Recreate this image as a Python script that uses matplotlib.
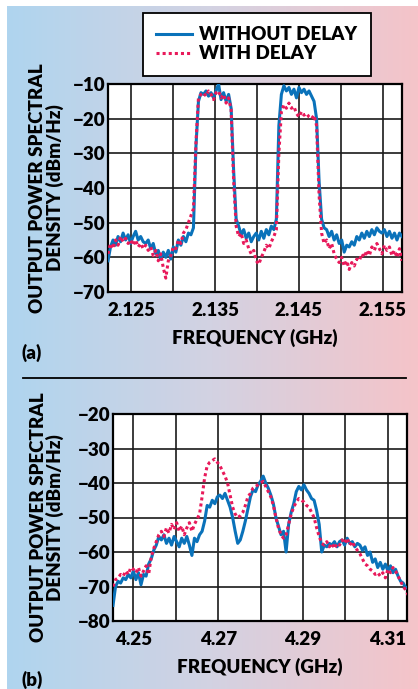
import numpy as np
import matplotlib
matplotlib.use('Agg')
import matplotlib.pyplot as plt
from matplotlib.colors import LinearSegmentedColormap

plt.rcParams['font.family'] = ['Lato', 'DejaVu Sans']
plt.rcParams['font.weight'] = 'heavy'
plt.rcParams['axes.labelweight'] = 'heavy'

# panel (a): sweep start / step in GHz, then trace values in dBm/Hz
a_start, a_step = 2.1222, 0.0003
a_without = [-61, -57, -55, -56.5, -54, -55.5, -53, -55, -53.5, -56,
             -54, -52.5, -55, -54, -55.5, -56, -55, -57.5, -56, -59,
             -58, -60.5, -58.5, -60, -58, -60.5, -57, -58.5, -55, -56.5,
             -54, -55.5, -53, -53.5, -51.5, -28, -15, -12.5, -13, -12,
             -13.5, -12.5, -14, -12, -10, -14.5, -12.5, -15, -13, -17,
             -35, -49, -51, -53.5, -52, -54.5, -53, -55.5, -54, -53,
             -55, -52.5, -54.5, -52, -53.5, -51, -52, -49, -22, -13,
             -10.5, -12, -11, -13, -11.5, -14, -11, -12.5, -11.5, -13,
             -12, -13.5, -15, -20, -38, -49, -51.5, -52, -54, -52.5,
             -55, -53.5, -56, -55, -58.5, -56.5, -57, -55.5, -56.5, -54,
             -55, -53, -54.5, -52.5, -54, -52, -53.5, -51.5, -52.5, -53,
             -52, -54, -52.5, -54.5, -53, -55, -53, -54]
a_with = [-59, -56, -57.5, -55, -56.5, -54, -55.5, -54.5, -56, -55,
          -56.5, -55, -57, -56, -57.5, -56.5, -58, -57, -59.5, -58,
          -61, -59, -63, -66, -61, -59.5, -57, -57.5, -55, -56,
          -53, -52, -50, -48, -46, -27, -14, -13, -12.5, -13.5,
          -12, -13, -14.5, -12.5, -12, -14, -13, -15.5, -14, -17.5,
          -38, -51, -54, -53, -56, -55, -57.5, -59, -58, -61,
          -62, -60, -58.5, -56.5, -57.5, -55.5, -54, -52, -30, -18,
          -16, -17, -15.5, -17, -16.5, -18.5, -19.5, -18, -19, -18.5,
          -19.5, -20, -19, -22, -42, -53, -56, -55, -57.5, -56,
          -59, -60.5, -61.5, -60, -62.5, -61, -63.5, -61.5, -62.5, -60.5,
          -61, -59, -60, -58, -59.5, -57, -58, -56, -57.5, -59,
          -56.5, -58, -57, -59.5, -58, -60, -57.5, -61]

# panel (b)
b_start, b_step = 4.2452, 0.0006
b_without = [-75.5, -70, -68.5, -69, -67.5, -68, -66.5, -67.5, -65.5, -68,
             -66, -69.5, -66.5, -67, -63.5, -62, -59.5, -58, -55.5, -56.5,
             -55, -57.5, -56, -58, -55.5, -57, -58.5, -56, -57.5, -55.5,
             -58, -61, -56, -57, -55, -54, -51, -46.5, -47, -45,
             -46, -44, -43.5, -44.5, -43, -45, -47, -50, -54, -57.5,
             -56.5, -54, -51, -47.5, -44, -42, -42.5, -40.5, -39.5, -38,
             -40, -41.5, -43.5, -46, -50, -52.5, -55, -54, -60, -52,
             -48.5, -46, -42.5, -41, -42, -40.5, -42, -43, -44.5, -45,
             -48, -52, -60, -58, -58.5, -57.5, -58, -57, -58.5, -57,
             -56.5, -58, -56, -57.5, -57, -58.5, -57.5, -58, -59.5, -58.5,
             -61, -60, -63, -62, -64.5, -63, -65, -63.5, -65.5, -64,
             -66, -65, -67, -68.5, -69, -70.5, -70]
b_with = [-70, -68, -67.5, -66.5, -67, -65.5, -66.5, -64.5, -65, -66,
          -64.5, -67, -65.5, -64, -66.5, -61.5, -59, -57, -55, -54,
          -55.5, -53, -54.5, -52, -53.5, -51.5, -54, -52.5, -55, -53,
          -51.5, -54, -52, -50.5, -49, -44, -38.5, -35, -34, -33.5,
          -33, -34, -35, -36.5, -38, -40, -43.5, -47, -49, -50,
          -49.5, -48.5, -46.5, -44, -43, -41.5, -41, -40.5, -40, -39.5,
          -41, -42.5, -44, -46.5, -50, -53, -55, -56, -55, -52,
          -49, -47, -45.5, -44.5, -45, -45.5, -46.5, -47, -48.5, -50,
          -53, -55.5, -57.5, -58, -57, -58.5, -57.5, -59, -57.5, -58,
          -56.5, -57.5, -56, -58, -57, -58.5, -59.5, -60.5, -62, -63.5,
          -64, -65, -65.5, -66.5, -66, -67, -66, -67.5, -65, -66,
          -64.5, -65.5, -67, -68.5, -70, -71, -72.5]

blue = '#0a72ba'
red = '#e8195a'
W, H = 418, 689
FS = 13.5

fig = plt.figure(figsize=(W / 100, H / 100), dpi=100)

# gradient background
bg = fig.add_axes([7 / W, 0, 1 - 7 / W, 1 - 6 / H], zorder=-5)
cmap = LinearSegmentedColormap.from_list('bg', ['#afd5ef', '#d3d2e2', '#f5c4c9'])
bg.imshow(np.linspace(0, 1, 256)[None, :], aspect='auto', cmap=cmap, extent=[0, 1, 0, 1])
bg.axis('off')


def fpx(l, b, r, t):
    return [l / W, 1 - b / H, (r - l) / W, (b - t) / H]


ax1 = fig.add_axes(fpx(108, 292, 402, 84))
ax2 = fig.add_axes(fpx(113, 621, 407, 414))

fa = a_start + a_step * np.arange(len(a_without))
fb = b_start + b_step * np.arange(len(b_without))

ax1.plot(fa, a_without, color=blue, lw=2.2, label='WITHOUT DELAY', zorder=3)
ax1.plot(fa, a_with, color=red, lw=2.2, ls=(0, (1, 1)), label='WITH DELAY', zorder=4)
ax2.plot(fb, b_without, color=blue, lw=2.2, zorder=3)
ax2.plot(fb, b_with, color=red, lw=2.2, ls=(0, (1, 1)), zorder=4)

ax1.set_xlim(2.1222, 2.1573)
ax1.set_ylim(-70, -10)
ax1.set_xticks(np.arange(2.125, 2.1551, 0.005))
ax1.set_xticklabels(['2.125', '', '2.135', '', '2.145', '', '2.155'])
ax1.set_yticks(np.arange(-70, -9, 10))

ax2.set_xlim(4.2452, 4.3145)
ax2.set_ylim(-80, -20)
ax2.set_xticks(np.arange(4.25, 4.3101, 0.01))
ax2.set_xticklabels(['4.25', '', '4.27', '', '4.29', '', '4.31'])
ax2.set_yticks(np.arange(-80, -19, 10))

for ax, lx in [(ax1, -0.15), (ax2, -0.166)]:
    ax.set_facecolor('white')
    ax.grid(True, color='#1a1a1a', lw=1.2)
    ax.set_axisbelow(True)
    ax.tick_params(axis='x', length=0, labelsize=FS, pad=7)
    ax.tick_params(axis='y', length=0, labelsize=FS, pad=2)
    for s in ax.spines.values():
        s.set_linewidth(1.6)
        s.set_color('black')
    ax.set_xlabel('FREQUENCY (GHz)', fontsize=FS, labelpad=7)
    ax.set_ylabel('OUTPUT POWER SPECTRAL\nDENSITY (dBm/Hz)', fontsize=FS, linespacing=0.95)
    ax.yaxis.set_label_coords(lx, 0.5)

fig.text(22 / W, 1 - 353 / H, '(a)', fontsize=FS, va='center')
fig.text(22 / W, 1 - 680 / H, '(b)', fontsize=FS, va='center')
fig.add_artist(plt.Line2D([23 / W, 406 / W], [1 - 378 / H, 1 - 378 / H], color='black', lw=1.3))

leg = fig.legend(loc='upper left', bbox_to_anchor=(143 / W, 1 - 13 / H), fontsize=FS,
                 handlelength=1.9, handletextpad=0.4, labelspacing=0.12,
                 borderpad=0.7, borderaxespad=0, fancybox=False, framealpha=1,
                 edgecolor='black')
leg.get_frame().set_linewidth(1.3)

plt.savefig('out.png', dpi=100)
